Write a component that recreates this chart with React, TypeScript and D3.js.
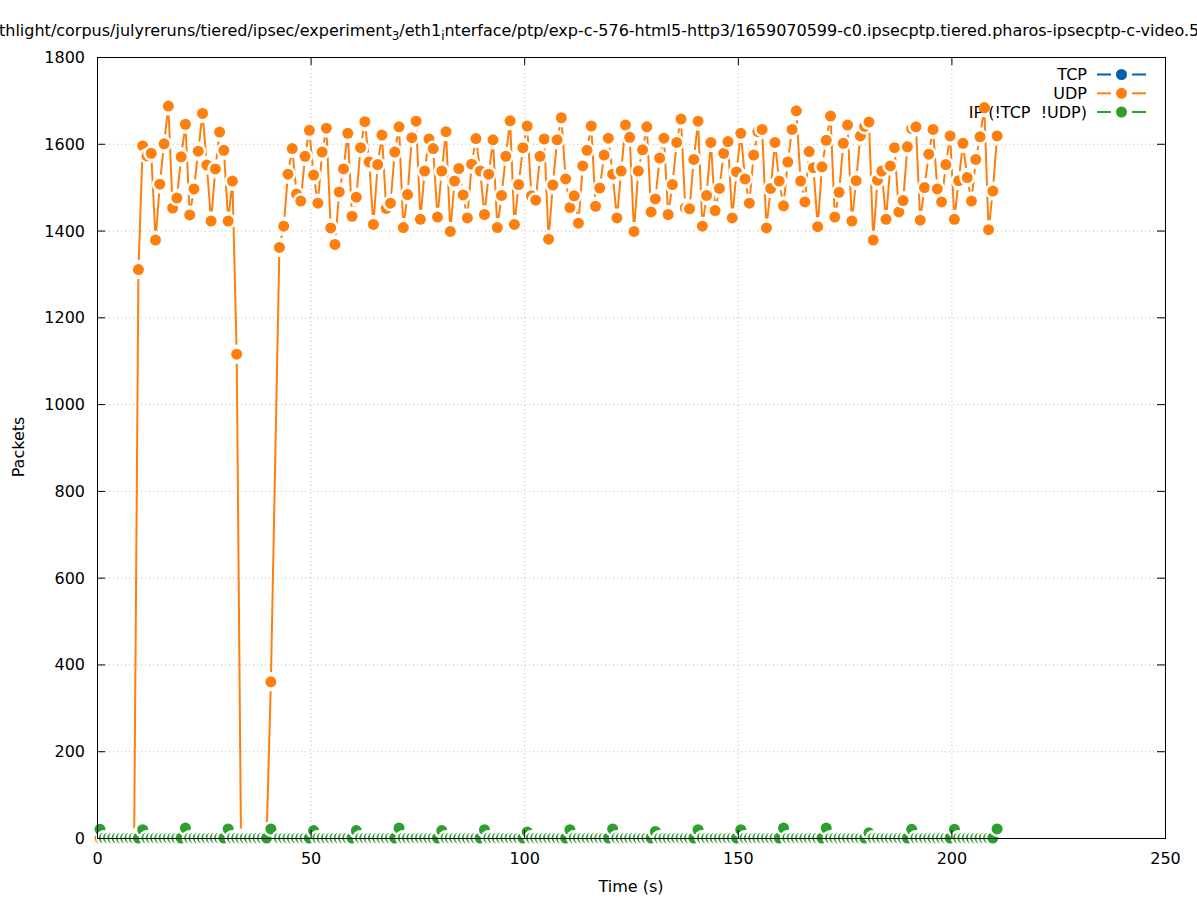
import React from 'react';
import * as d3 from 'd3';

const TIMES = [
  0.7, 1.7, 2.7, 3.7, 4.7, 5.7, 6.7, 7.7, 8.7, 9.7,
  10.7, 11.7, 12.7, 13.7, 14.7, 15.7, 16.7, 17.7, 18.7, 19.7,
  20.7, 21.7, 22.7, 23.7, 24.7, 25.7, 26.7, 27.7, 28.7, 29.7,
  30.7, 31.7, 32.7, 33.7, 34.7, 35.7, 36.7, 37.7, 38.7, 39.7,
  40.7, 42.7, 43.7, 44.7, 45.7, 46.7, 47.7, 48.7, 49.7,
  50.7, 51.7, 52.7, 53.7, 54.7, 55.7, 56.7, 57.7, 58.7, 59.7,
  60.7, 61.7, 62.7, 63.7, 64.7, 65.7, 66.7, 67.7, 68.7, 69.7,
  70.7, 71.7, 72.7, 73.7, 74.7, 75.7, 76.7, 77.7, 78.7, 79.7,
  80.7, 81.7, 82.7, 83.7, 84.7, 85.7, 86.7, 87.7, 88.7, 89.7,
  90.7, 91.7, 92.7, 93.7, 94.7, 95.7, 96.7, 97.7, 98.7, 99.7,
  100.7, 101.7, 102.7, 103.7, 104.7, 105.7, 106.7, 107.7, 108.7, 109.7,
  110.7, 111.7, 112.7, 113.7, 114.7, 115.7, 116.7, 117.7, 118.7, 119.7,
  120.7, 121.7, 122.7, 123.7, 124.7, 125.7, 126.7, 127.7, 128.7, 129.7,
  130.7, 131.7, 132.7, 133.7, 134.7, 135.7, 136.7, 137.7, 138.7, 139.7,
  140.7, 141.7, 142.7, 143.7, 144.7, 145.7, 146.7, 147.7, 148.7, 149.7,
  150.7, 151.7, 152.7, 153.7, 154.7, 155.7, 156.7, 157.7, 158.7, 159.7,
  160.7, 161.7, 162.7, 163.7, 164.7, 165.7, 166.7, 167.7, 168.7, 169.7,
  170.7, 171.7, 172.7, 173.7, 174.7, 175.7, 176.7, 177.7, 178.7, 179.7,
  180.7, 181.7, 182.7, 183.7, 184.7, 185.7, 186.7, 187.7, 188.7, 189.7,
  190.7, 191.7, 192.7, 193.7, 194.7, 195.7, 196.7, 197.7, 198.7, 199.7,
  200.7, 201.7, 202.7, 203.7, 204.7, 205.7, 206.7, 207.7, 208.7, 209.7,
  210.7,
];

const UDP = [
  0, 0, 0, 0, 0, 0, 0, 0, 0, 1310,
  1595, 1572, 1578, 1378, 1507, 1600, 1687, 1452, 1475, 1570,
  1645, 1436, 1496, 1583, 1670, 1551, 1422, 1542, 1627, 1585,
  1422, 1514, 1115, 0, 0, 0, 0, 0, 0, 0,
  360, 1361, 1410, 1530, 1589, 1484, 1468, 1571, 1631,
  1528, 1463, 1581, 1636, 1406, 1368, 1489, 1542, 1624, 1433,
  1477, 1591, 1651, 1558, 1414, 1552, 1620, 1451, 1463, 1581,
  1639, 1407, 1483, 1614, 1652, 1426, 1537, 1611, 1589, 1431,
  1537, 1628, 1398, 1514, 1543, 1482, 1429, 1553, 1612, 1537,
  1437, 1530, 1609, 1407, 1481, 1571, 1653, 1414, 1506, 1591,
  1641, 1480, 1470, 1571, 1611, 1380, 1505, 1609, 1660, 1519,
  1453, 1480, 1417, 1549, 1585, 1641, 1456, 1498, 1574, 1613,
  1530, 1429, 1537, 1643, 1615, 1398, 1537, 1586, 1639, 1443,
  1473, 1567, 1613, 1437, 1506, 1603, 1657, 1452, 1450, 1564,
  1652, 1410, 1481, 1603, 1446, 1497, 1578, 1605, 1429, 1535,
  1624, 1519, 1463, 1574, 1628, 1633, 1406, 1497, 1603, 1514,
  1457, 1558, 1633, 1676, 1514, 1466, 1582, 1545, 1409, 1547,
  1608, 1664, 1431, 1488, 1601, 1643, 1422, 1515, 1618, 1640,
  1650, 1378, 1516, 1537, 1426, 1549, 1591, 1443, 1469, 1593,
  1635, 1639, 1424, 1499, 1576, 1633, 1496, 1466, 1552, 1618,
  1426, 1515, 1601, 1522, 1468, 1564, 1616, 1683, 1402, 1491,
  1618,
];

const IP_OTHER = [
  20, 0, 0, 0, 0, 0, 0, 0, 0, 0,
  19, 0, 0, 0, 0, 0, 0, 0, 0, 0,
  23, 0, 0, 0, 0, 0, 0, 0, 0, 0,
  21, 0, 0, 0, 0, 0, 0, 0, 0, 0,
  21, 0, 0, 0, 0, 0, 0, 0, 0,
  17, 0, 0, 0, 0, 0, 0, 0, 0, 0,
  17, 0, 0, 0, 0, 0, 0, 0, 0, 0,
  23, 0, 0, 0, 0, 0, 0, 0, 0, 0,
  17, 0, 0, 0, 0, 0, 0, 0, 0, 0,
  19, 0, 0, 0, 0, 0, 0, 0, 0, 0,
  14, 0, 0, 0, 0, 0, 0, 0, 0, 0,
  19, 0, 0, 0, 0, 0, 0, 0, 0, 0,
  21, 0, 0, 0, 0, 0, 0, 0, 0, 0,
  15, 0, 0, 0, 0, 0, 0, 0, 0, 0,
  19, 0, 0, 0, 0, 0, 0, 0, 0, 0,
  19, 0, 0, 0, 0, 0, 0, 0, 0, 0,
  23, 0, 0, 0, 0, 0, 0, 0, 0, 0,
  23, 0, 0, 0, 0, 0, 0, 0, 0, 0,
  12, 0, 0, 0, 0, 0, 0, 0, 0, 0,
  20, 0, 0, 0, 0, 0, 0, 0, 0, 0,
  20, 0, 0, 0, 0, 0, 0, 0, 0, 0,
  21,
];

const X_TICKS = [0, 50, 100, 150, 200, 250];
const Y_TICKS = [0, 200, 400, 600, 800, 1000, 1200, 1400, 1600, 1800];
const SERIES_NAMES = ['TCP', 'UDP', 'IP (!TCP  !UDP)'];
const SERIES_COLORS = ['#0060ad', '#ff7f0e', '#2ca02c'];

const FONT = 'DejaVu Sans, Liberation Sans, sans-serif';
const PT_R = 5.5;
const RING_R = 8;
const GAP = 9.5;

function gappedPath(pts: [number, number][]): string {
  let d = '';
  for (let i = 0; i < pts.length - 1; i++) {
    const [x1, y1] = pts[i];
    const [x2, y2] = pts[i + 1];
    const dx = x2 - x1, dy = y2 - y1;
    const L = Math.hypot(dx, dy);
    if (L <= 2 * GAP) continue;
    const ux = dx / L, uy = dy / L;
    d += `M${x1 + ux * GAP},${y1 + uy * GAP}L${x2 - ux * GAP},${y2 - uy * GAP}`;
  }
  return d;
}

export default function App() {
  const W = 1197, H = 900;
  const left = 97, right = 1165, top = 57, bottom = 838;
  const x = d3.scaleLinear().domain([0, 250]).range([left, right]);
  const y = d3.scaleLinear().domain([0, 1800]).range([bottom, top]);

  const series = [
    { name: SERIES_NAMES[1], color: SERIES_COLORS[1], values: UDP },
    { name: SERIES_NAMES[2], color: SERIES_COLORS[2], values: IP_OTHER },
  ];

  const legendRows = [74.5, 93.3, 112];
  const legendBox = { x0: 960, x1: 1150, y0: 62, y1: 122 };

  const allPts = series.map(s => ({
    color: s.color,
    name: s.name,
    pts: TIMES.map((t, i) => [x(t), y(s.values[i])] as [number, number]),
  }));

  return (
    <svg width={W} height={H} style={{ position: 'absolute', left: 0, top: 0, background: '#fff' }} fontFamily={FONT}>
      <rect x={0} y={0} width={W} height={H} fill="#fff" />
      {/* title */}
      <text x={-1} y={36} fontSize={16} fill="#000">
        thlight/corpus/julyreruns/tiered/ipsec/experiment<tspan fontSize={12} dy={4}>3</tspan>
        <tspan dy={-4}>/eth1</tspan><tspan fontSize={12} dy={4}>i</tspan>
        <tspan dy={-4}>nterface/ptp/exp-c-576-html5-http3/1659070599-c0.ipsecptp.tiered.pharos-ipsecptp-c-video.5</tspan>
      </text>

      {/* grid */}
      <g stroke="#b8b8b8" strokeWidth={1} strokeDasharray="1,3">
        {Y_TICKS.map(t => (
          <line key={'gy' + t} x1={left} x2={right} y1={y(t) + 0.5} y2={y(t) + 0.5} />
        ))}
        {X_TICKS.map(t => (
          <line key={'gx' + t} x1={x(t) + 0.5} x2={x(t) + 0.5} y1={top} y2={bottom} />
        ))}
      </g>

      {/* legend samples */}
      {SERIES_NAMES.map((n, i) => (
        <g key={'lg' + i}>
          <line x1={1097} x2={1111} y1={legendRows[i]} y2={legendRows[i]} stroke={SERIES_COLORS[i]} strokeWidth={2} />
          <line x1={1132} x2={1146} y1={legendRows[i]} y2={legendRows[i]} stroke={SERIES_COLORS[i]} strokeWidth={2} />
          <circle cx={1121.5} cy={legendRows[i]} r={PT_R} fill={SERIES_COLORS[i]} />
        </g>
      ))}

      {/* data */}
      {allPts.map(s => (
        <g key={s.name}>
          <path d={gappedPath(s.pts)} fill="none" stroke={s.color} strokeWidth={2} />
          {s.pts.map((p, i) => (
            <g key={i}>
              <circle cx={p[0]} cy={p[1]} r={RING_R} fill="#fff" />
              <circle cx={p[0]} cy={p[1]} r={PT_R} fill={s.color} />
            </g>
          ))}
        </g>
      ))}

      {/* legend text, with data markers kept above it */}
      {SERIES_NAMES.map((n, i) => (
        <text key={'lt' + i} x={1087} y={legendRows[i] + 5.5} fontSize={16} textAnchor="end" style={{ whiteSpace: 'pre' }}>{n}</text>
      ))}
      {allPts.map(s => (
        <g key={'ov' + s.name}>
          {s.pts
            .filter(p => p[0] > legendBox.x0 && p[0] < legendBox.x1 && p[1] > legendBox.y0 && p[1] < legendBox.y1)
            .map((p, i) => (
              <circle key={i} cx={p[0]} cy={p[1]} r={PT_R} fill={s.color} />
            ))}
        </g>
      ))}

      {/* border */}
      <rect x={left + 0.5} y={top + 0.5} width={right - left} height={bottom - top} fill="none" stroke="#000" strokeWidth={1} />

      {/* ticks */}
      <g stroke="#000" strokeWidth={1}>
        {Y_TICKS.map(t => (
          <g key={'ty' + t}>
            <line x1={left} x2={left + 8} y1={y(t) + 0.5} y2={y(t) + 0.5} />
            <line x1={right - 8} x2={right} y1={y(t) + 0.5} y2={y(t) + 0.5} />
          </g>
        ))}
        {X_TICKS.map(t => (
          <g key={'tx' + t}>
            <line x1={x(t) + 0.5} x2={x(t) + 0.5} y1={bottom} y2={bottom - 8} />
            <line x1={x(t) + 0.5} x2={x(t) + 0.5} y1={top} y2={top + 8} />
          </g>
        ))}
      </g>
      <g fontSize={16} fill="#000">
        {Y_TICKS.map(t => (
          <text key={'ly' + t} x={85} y={y(t) + 6} textAnchor="end">{t}</text>
        ))}
        {X_TICKS.map(t => (
          <text key={'lx' + t} x={x(t) + 0.5} y={864} textAnchor="middle">{t}</text>
        ))}
      </g>
      <text x={631} y={892} fontSize={16} textAnchor="middle">Time (s)</text>
      <text transform="translate(24,447) rotate(-90)" fontSize={16} textAnchor="middle">Packets</text>
    </svg>
  );
}
